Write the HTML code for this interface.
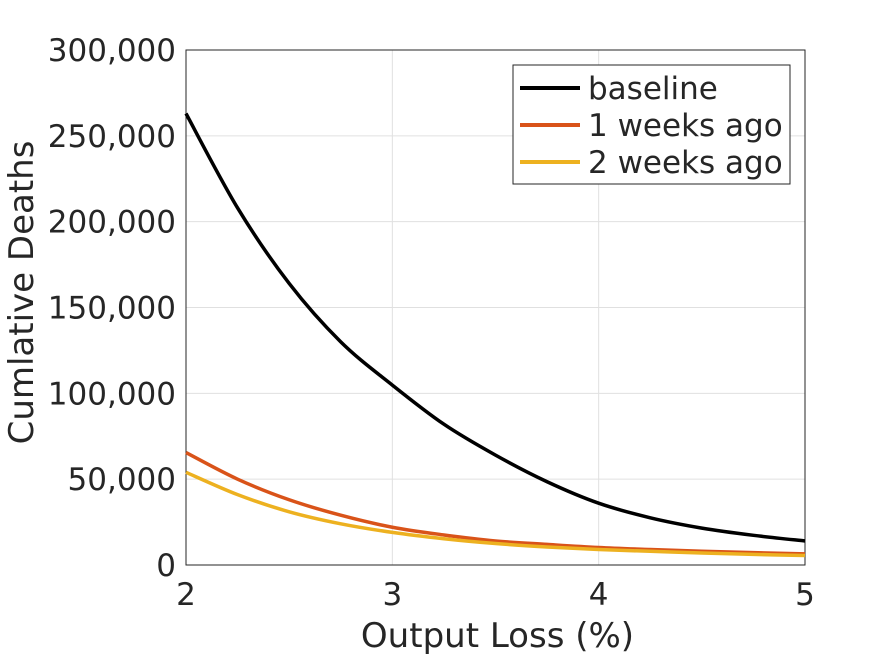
<!DOCTYPE html>
<html><head><meta charset="utf-8"><style>
body{margin:0;background:#fff}
svg text{font-family:"DejaVu Sans","Liberation Sans",sans-serif;fill:#262626}
</style></head><body>
<svg id="chart" width="891" height="656" viewBox="0 0 891 656"></svg>
<script>
const xValues=[2,2.25,2.5,2.75,3,3.25,3.5,3.75,4,4.25,4.5,4.75,5];
const baseline=[263000,208000,164000,130000,104800,82000,64000,48500,36000,27500,21500,17300,14000];
const week1=[65500,50000,38000,29000,22000,17500,14000,12000,10200,9000,8000,7200,6500];
const week2=[54000,41000,31000,24000,19000,15300,12500,10500,9000,8000,7000,6200,5500];
const xTicks=[2,3,4,5];
const yTicks=[0,50000,100000,150000,200000,250000,300000];
const seriesNames=["baseline","1 weeks ago","2 weeks ago"];
const colors=["#000000","#d95319","#edb120"];
const L=186,R=805,T=50,B=565;
const sx=v=>L+(v-2)/3*(R-L);
const sy=v=>B-v/300000*(B-T);
const NS="http://www.w3.org/2000/svg";
const svg=document.getElementById('chart');
function mk(t,a,p){const e=document.createElementNS(NS,t);for(const k in a)e.setAttribute(k,a[k]);(p||svg).appendChild(e);return e;}
mk('rect',{x:L,y:T,width:R-L,height:B-T,fill:'#fff'});
xTicks.forEach(t=>{const g=mk('line',{x1:sx(t),x2:sx(t),y1:T,y2:B,stroke:'#e0e0e0','stroke-width':1});

const tx=mk('text',{x:sx(t),y:B+40,'text-anchor':'middle','font-size':31});tx.textContent=t;
});
yTicks.forEach(t=>{const g=mk('line',{x1:L,x2:R,y1:sy(t),y2:sy(t),stroke:'#e0e0e0','stroke-width':1});

const tx=mk('text',{x:L-10,y:sy(t)+11,'text-anchor':'end','font-size':31});tx.textContent=t.toLocaleString('en-US');
});
const frame=mk('rect',{x:L,y:T,width:R-L,height:B-T,fill:'none',stroke:'#262626','stroke-width':1});

function pathFor(ys){const p=xValues.map((x,i)=>[sx(x),sy(ys[i])]);let d='M'+p[0][0]+','+p[0][1];
for(let i=0;i<p.length-1;i++){const p0=p[Math.max(0,i-1)],p1=p[i],p2=p[i+1],p3=p[Math.min(p.length-1,i+2)];
d+=' C'+(p1[0]+(p2[0]-p0[0])/6)+','+(p1[1]+(p2[1]-p0[1])/6)+' '+(p2[0]-(p3[0]-p1[0])/6)+','+(p2[1]-(p3[1]-p1[1])/6)+' '+p2[0]+','+p2[1];}return d;}
[baseline,week1,week2].forEach((s,i)=>{const e=mk('path',{d:pathFor(s),fill:'none',stroke:colors[i],'stroke-width':3.5});
});
const lg=mk('g',{});
mk('rect',{x:513,y:65,width:277,height:119,fill:'#fff',stroke:'#262626','stroke-width':1},lg);
seriesNames.forEach((n,i)=>{const y=88+i*37;mk('line',{x1:520,x2:580,y1:y,y2:y,stroke:colors[i],'stroke-width':4},lg);
const t=mk('text',{x:588,y:y+11,'font-size':31},lg);t.textContent=n;
});
const xt=mk('text',{x:(L+R)/2+2,y:647,'text-anchor':'middle','font-size':34});xt.textContent='Output Loss (%)';

const yt=mk('text',{x:0,y:0,'text-anchor':'middle','font-size':34,transform:'translate(33,'+((T+B)/2-15)+') rotate(-90)'});yt.textContent='Cumlative Deaths';

</script>
</body></html>
